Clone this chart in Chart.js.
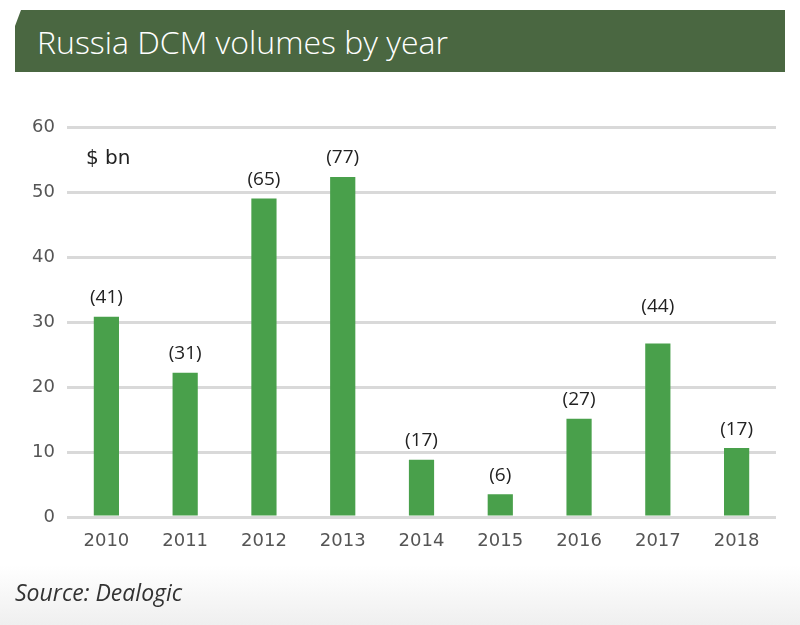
<!DOCTYPE html>
<html>
<head>
<meta charset="utf-8">
<script src="https://cdn.jsdelivr.net/npm/chart.js@4"></script>
<style>
  html, body { margin: 0; padding: 0; }
  body {
    width: 800px; height: 625px; position: relative; overflow: hidden;
    background: linear-gradient(to bottom, #ffffff 0px, #ffffff 565px, #efefef 625px);
    font-family: "Open Sans", Lato, sans-serif;
  }
  #banner {
    position: absolute; left: 15px; top: 10px; width: 770px; height: 62px;
    background: #4a6741;
    clip-path: polygon(6px 0, 100% 0, 100% 100%, 0 100%, 0 16px);
  }
  #banner span {
    position: absolute; left: 22px; top: 10px;
    color: #fff; font-size: 32px; font-weight: 300;
  }
  #unit { position: absolute; left: 86px; top: 145px; font-size: 20px; color: #222; font-family: "DejaVu Sans", sans-serif; }
  #source { position: absolute; left: 15px; top: 576px; font-size: 23px; font-style: italic; color: #333; }
  canvas { position: absolute; left: 0; top: 0; }
</style>
</head>
<body>
<div id="banner"><span>Russia DCM volumes by year</span></div>
<canvas id="myChart" width="800" height="625"></canvas>
<div id="unit">$ bn</div>
<div id="source">Source: Dealogic</div>
<script>
'use strict';

// DATA
var years = ['2010', '2011', '2012', '2013', '2014', '2015', '2016', '2017', '2018'];
var volumes = [30.8, 22.2, 49.0, 52.3, 8.8, 3.5, 15.1, 26.7, 10.6];
var deals = [41, 31, 65, 77, 17, 6, 27, 44, 17];
var yTicks = [0, 10, 20, 30, 40, 50, 60];

var tickFont = '"DejaVu Sans", sans-serif';

// labels in brackets above bars, pushed above a gridline if they would sit on it
var dealLabels = {
    id: 'dealLabels',
    afterDatasetsDraw: function(chart) {
        var ctx = chart.ctx;
        var yScale = chart.scales.y;
        var meta = chart.getDatasetMeta(0);
        ctx.save();
        ctx.font = '19px "Open Sans", Lato, sans-serif';
        ctx.fillStyle = '#222';
        ctx.textAlign = 'center';
        ctx.textBaseline = 'middle';
        meta.data.forEach(function(bar, i) {
            var y = bar.y - 19;
            yTicks.forEach(function(t) {
                var gy = yScale.getPixelForValue(t);
                if (Math.abs(gy - y) < 8) y = gy - 15;
            });
            ctx.fillText('(' + deals[i] + ')', bar.x, y);
        });
        ctx.restore();
    }
};

var ctx = document.getElementById('myChart').getContext('2d');
var myChart = new Chart(ctx, {
    type: 'bar',
    data: {
        labels: years,
        datasets: [{
            data: volumes,
            backgroundColor: '#49a04b',
            borderWidth: 0,
            barPercentage: 0.32,
            categoryPercentage: 1.0
        }]
    },
    options: {
        responsive: false,
        animation: false,
        layout: { padding: { top: 127, right: 24, bottom: 68, left: 0 } },
        plugins: {
            legend: { display: false },
            tooltip: { enabled: false }
        },
        scales: {
            x: {
                grid: { display: false },
                border: { display: false },
                ticks: {
                    color: '#555',
                    padding: 6,
                    font: { size: 18, family: tickFont }
                },
                afterFit: function(s) { s.height = 40; }
            },
            y: {
                min: 0,
                max: 60,
                afterBuildTicks: function(s) {
                    s.ticks = yTicks.map(function(v) { return { value: v }; });
                },
                grid: { color: '#d9d9d9', lineWidth: 3, drawTicks: false },
                border: { display: false },
                ticks: {
                    color: '#555',
                    padding: 12,
                    font: { size: 18, family: tickFont }
                },
                afterFit: function(s) { s.width = 67; }
            }
        }
    },
    plugins: [dealLabels]
});
</script>
</body>
</html>
